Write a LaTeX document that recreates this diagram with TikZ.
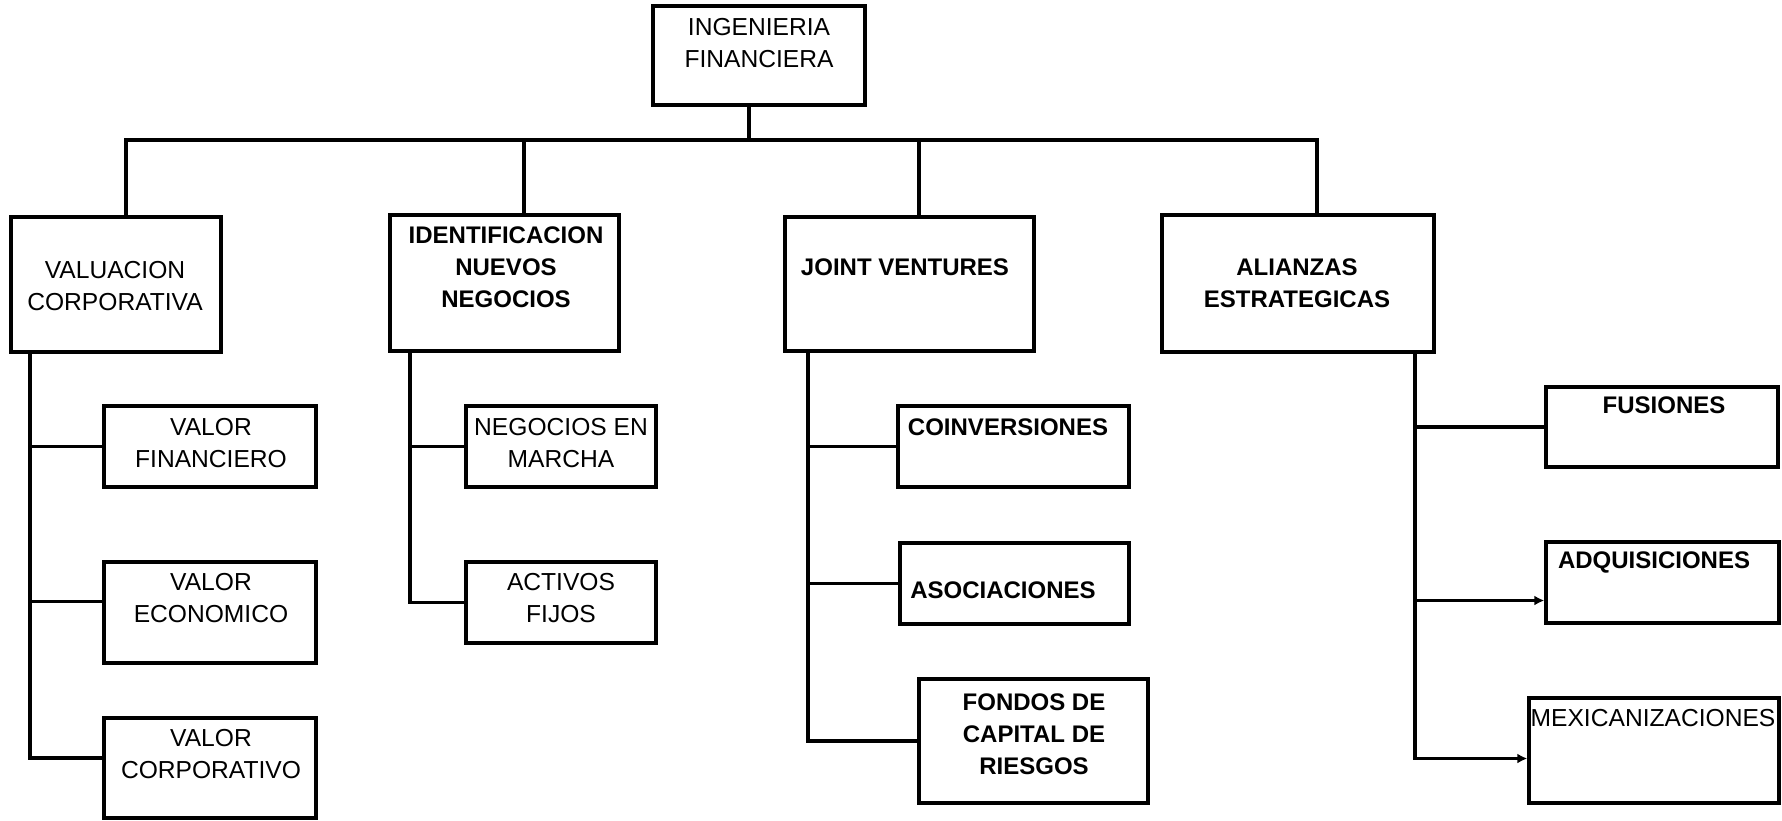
\documentclass[tikz,border=0pt]{standalone}
\usepackage{fontspec}
\setmainfont{Liberation Sans}
\usetikzlibrary{fit,arrows.meta}
\begin{document}
\begin{tikzpicture}[x=0.5pt,y=-0.5pt,
  box/.style={draw, line width=1.7pt, inner sep=0pt},
  conn/.style={line width=1.6pt},
  arr/.style={line width=1.6pt, -{Latex[length=5pt,width=5pt]}},
  txt/.style={font=\fontsize{12.3}{16}\selectfont, align=center, inner sep=0pt},
  btxt/.style={font=\fontsize{12}{16}\selectfont\bfseries, align=center, inner sep=0pt}]
\useasboundingbox (0,0) rectangle (1782,820);

% boxes
\node[box, fit={(653,6) (865,105)}] (ing) {};
\node[box, fit={(11,217) (221,352)}] (vc) {};
\node[box, fit={(390,215) (619,351)}] (id) {};
\node[box, fit={(785,217) (1034,351)}] (jv) {};
\node[box, fit={(1162,215) (1434,352)}] (al) {};
\node[box, fit={(104,406) (316,487)}] (vf) {};
\node[box, fit={(104,562) (316,663)}] (ve) {};
\node[box, fit={(104,718) (316,818)}] (vco) {};
\node[box, fit={(466,406) (656,487)}] (nm) {};
\node[box, fit={(466,562) (656,643)}] (af) {};
\node[box, fit={(898,406) (1129,487)}] (co) {};
\node[box, fit={(900,543) (1129,624)}] (as) {};
\node[box, fit={(919,679) (1148,803)}] (fo) {};
\node[box, fit={(1546,387) (1778,467)}] (fu) {};
\node[box, fit={(1546,542) (1779,623)}] (ad) {};
\node[box, fit={(1529,698) (1779,803)}] (mx) {};

% texts
\node[txt] (ingt) at (759,43) {INGENIERIA\\FINANCIERA};
\node[txt] (vct) at (115,286) {VALUACION\\CORPORATIVA};
\node[btxt] (idt) at (506,267) {IDENTIFICACION\\NUEVOS\\NEGOCIOS};
\node[btxt] (jvt) at (905,267) {JOINT VENTURES};
\node[btxt] (alt) at (1297,283) {ALIANZAS\\ESTRATEGICAS};
\node[txt] (vft) at (211,443) {VALOR\\FINANCIERO};
\node[txt] (vet) at (211,598) {VALOR\\ECONOMICO};
\node[txt] (vcot) at (211,754) {VALOR\\CORPORATIVO};
\node[txt] (nmt) at (561,443) {NEGOCIOS EN\\MARCHA};
\node[txt] (aft) at (561,598) {ACTIVOS\\FIJOS};
\node[btxt] (cot) at (1008,427) {COINVERSIONES};
\node[btxt] (ast) at (1003,590) {ASOCIACIONES};
\node[btxt] (fot) at (1034,734) {FONDOS DE\\CAPITAL DE\\RIESGOS};
\node[btxt] (fut) at (1664,405) {FUSIONES};
\node[btxt] (adt) at (1654,562) {ADQUISICIONES};
\node[txt] (mxt) at (1653,718) {MEXICANIZACIONES};

% top level connectors
\coordinate (bus) at (749,140);
\coordinate (xvc) at (126,140);
\coordinate (xid) at (524,140);
\coordinate (xjv) at (919,140);
\coordinate (xal) at (1317,140);
\draw[conn] (ing.south -| bus) -- (bus);
\draw[conn] (vc.north -| xvc) -- (xvc) -- (xal) -- (al.north -| xal);
\draw[conn] (id.north -| xid) -- (xid);
\draw[conn] (jv.north -| xjv) -- (xjv);

% valuacion children
\coordinate (xv2) at (30,0);
\draw[conn] (vc.south -| xv2) |- ([yshift=5pt]vco.west);
\draw[conn] (vf.west -| xv2) -- (vf.west);
\draw[conn] ([yshift=5.5pt]ve.west -| xv2) -- ([yshift=5.5pt]ve.west);

% identificacion children
\coordinate (xi2) at (410,0);
\draw[conn] (id.south -| xi2) |- (af.west);
\draw[conn] (nm.west -| xi2) -- (nm.west);

% joint ventures children
\coordinate (xj2) at (808,0);
\draw[conn] (jv.south -| xj2) |- (fo.west);
\draw[conn] (co.west -| xj2) -- (co.west);
\draw[conn] (as.west -| xj2) -- (as.west);

% alianzas children
\coordinate (xa2) at (1415,0);
\draw[arr] (al.south -| xa2) |- ([yshift=-4pt]mx.west);
\draw[arr] ([yshift=-9pt]ad.west -| xa2) -- ([yshift=-9pt]ad.west);
\draw[conn] (fu.west -| xa2) -- (fu.west);
\end{tikzpicture}
\end{document}
